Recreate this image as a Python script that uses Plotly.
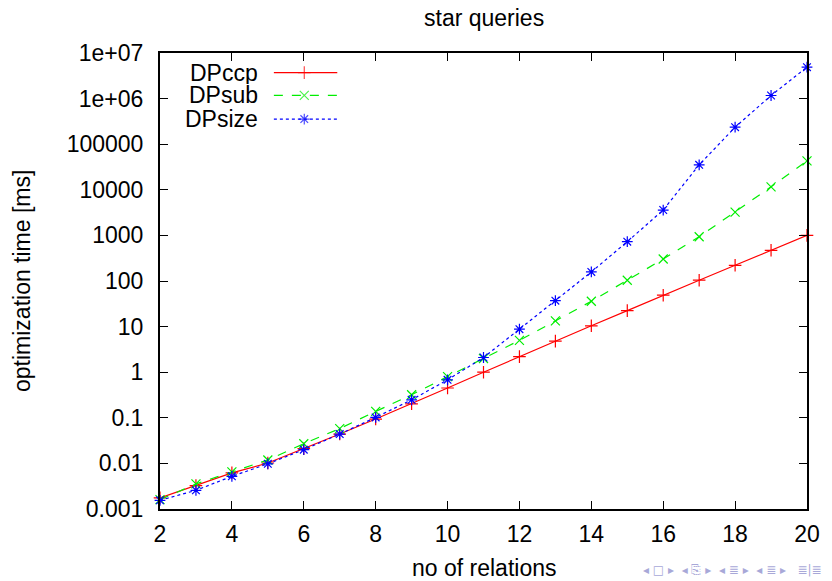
import plotly.graph_objects as go

relations = list(range(2, 21))
dpccp = [0.00175, 0.00325, 0.0062, 0.0102, 0.021, 0.044, 0.094, 0.203, 0.45, 1.0,
         2.2, 4.8, 10.4, 22.4, 48.8, 104, 221, 471, 1000]
dpsub = [0.0016, 0.00355, 0.0065, 0.0119, 0.027, 0.058, 0.138, 0.32, 0.8, 2.0,
         5.0, 13.3, 36, 104, 304, 935, 3250, 11600, 43000]
dpsize = [0.00155, 0.00257, 0.0052, 0.0098, 0.020, 0.044, 0.102, 0.248, 0.68, 2.1,
          8.8, 37, 158, 728, 3600, 35300, 236000, 1170000, 4900000]

series_names = ["DPccp", "DPsub", "DPsize"]
series_values = [dpccp, dpsub, dpsize]
colors = ["#ff0000", "#00ee00", "#0000ff"]
dashes = ["solid", "dash", "dot"]
symbols = ["cross-thin-open", "x-thin-open", "asterisk-open"]

y_tickvals = [0.001, 0.01, 0.1, 1, 10, 100, 1000, 10000, 100000, 1e6, 1e7]
y_ticktext = ["0.001", "0.01", "0.1", "1", "10", "100", "1000", "10000",
              "100000", "1e+06", "1e+07"]
x_tickvals = [2, 4, 6, 8, 10, 12, 14, 16, 18, 20]

FONT = "Liberation Sans, Arial, sans-serif"
FS = 23

fig = go.Figure()
for name, vals, c, d, s in zip(series_names, series_values, colors, dashes, symbols):
    fig.add_trace(go.Scatter(
        x=relations, y=vals, mode="lines+markers", name=name,
        line=dict(color=c, width=1.2, dash=d),
        marker=dict(symbol=s, size=9, color=c, line=dict(color=c, width=1.2)),
        showlegend=False, cliponaxis=False,
    ))

# manual gnuplot-style legend (text right, sample on the right)
leg_y = [0.957, 0.907, 0.855]
for name, c, d, s, yy in zip(series_names, colors, dashes, symbols, leg_y):
    fig.add_trace(go.Scatter(
        x=[0.176, 0.223, 0.274], y=[yy, yy, yy], xaxis="x2", yaxis="y2",
        mode="lines+markers", showlegend=False, hoverinfo="skip",
        line=dict(color=c, width=1.2, dash=d),
        marker=dict(symbol=s, size=[0, 9, 0], color=c, line=dict(color=c, width=1.2)),
    ))
    fig.add_annotation(x=0.153, y=yy, xref="paper", yref="paper", text=name,
                       showarrow=False, xanchor="right", yanchor="middle",
                       height=22, borderpad=0,
                       font=dict(family=FONT, size=FS, color="black"))

axis_common = dict(showline=True, linecolor="black", linewidth=2, mirror="ticks",
                   ticks="inside", ticklen=8, tickwidth=1, tickcolor="black",
                   showgrid=False, zeroline=False,
                   tickfont=dict(family=FONT, size=FS, color="black"))

fig.update_layout(
    width=824, height=573,
    margin=dict(l=152, r=17, t=45, b=72),
    plot_bgcolor="white", paper_bgcolor="white",
    xaxis=dict(range=[2, 20], tickvals=x_tickvals, ticklabelstandoff=3, **axis_common),
    yaxis=dict(type="log", range=[-3, 7], tickvals=y_tickvals, ticktext=y_ticktext,
               ticklabelstandoff=10, **axis_common),
    xaxis2=dict(overlaying="x", range=[0, 1], visible=False),
    yaxis2=dict(overlaying="y", range=[0, 1], visible=False),
)

fig.add_annotation(x=0.5, y=1, xref="paper", yref="paper", yshift=35,
                   text="star queries", showarrow=False, yanchor="middle",
                   borderpad=0,
                   font=dict(family=FONT, size=FS, color="black"))
fig.add_annotation(x=0.5, y=0, xref="paper", yref="paper", yshift=-59,
                   text="no of relations", showarrow=False, yanchor="middle",
                   borderpad=0,
                   font=dict(family=FONT, size=FS, color="black"))
fig.add_annotation(x=0, y=0.5, xref="paper", yref="paper", xshift=-138,
                   text="optimization time [ms]", textangle=-90, showarrow=False,
                   xanchor="center", yanchor="middle",
                   font=dict(family=FONT, size=FS, color="black"))
fig.add_annotation(x=1, y=0, xref="paper", yref="paper", xshift=16, yshift=-61,
                   text="◂ □ ▸  ◂ ⎘ ▸  ◂ ≣ ▸  ◂ ≣ ▸   ≣|≣",
                   showarrow=False, xanchor="right", yanchor="middle",
                   borderpad=0, height=14,
                   font=dict(family="DejaVu Sans", size=12, color="#a8a8d8"))

fig.write_html("out.html")
